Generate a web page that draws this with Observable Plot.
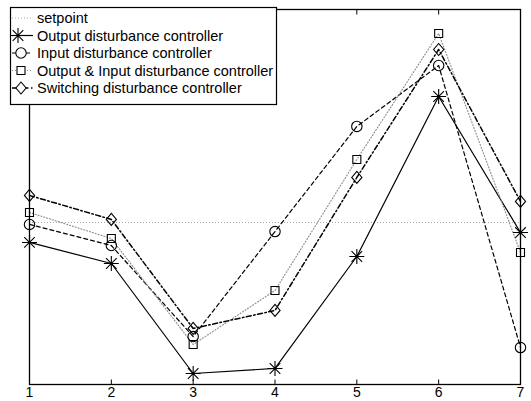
<!DOCTYPE html>
<html>
<head>
<meta charset="utf-8">
<script src="https://cdn.jsdelivr.net/npm/d3@7"></script>
<script src="https://cdn.jsdelivr.net/npm/@observablehq/plot@0.6"></script>
<style>
  html, body { margin: 0; padding: 0; background: #fff; }
  #chart svg { display: block; }
</style>
</head>
<body>
<div id="chart"></div>
<script>
// ---- data (arbitrary y units, setpoint = 1) ----
const xs = [1, 2, 3, 4, 5, 6, 7];
const setpoint = 1;
const outputDist   = [0.877, 0.747, 0.068, 0.099, 0.790, 1.778, 0.938];
const inputDist    = [0.988, 0.858, 0.296, 0.944, 1.593, 1.969, 0.228];
const outInDist    = [1.062, 0.901, 0.247, 0.580, 1.389, 2.167, 0.815];
const switchingDist= [1.167, 1.019, 0.346, 0.457, 1.278, 2.068, 1.130];
const seriesNames = [
  "setpoint",
  "Output disturbance controller",
  "Input disturbance controller",
  "Output & Input disturbance controller",
  "Switching disturbance controller"
];

// ---- custom Matlab-like marker shapes ----
const starSym = {draw(ctx, size) {
  const r = Math.sqrt(size / Math.PI), d = r * 0.707;
  ctx.moveTo(-r, 0); ctx.lineTo(r, 0);
  ctx.moveTo(0, -r); ctx.lineTo(0, r);
  ctx.moveTo(-d, -d); ctx.lineTo(d, d);
  ctx.moveTo(-d, d); ctx.lineTo(d, -d);
}};
const circleSym = {draw(ctx, size) {
  const r = Math.sqrt(size / Math.PI);
  ctx.moveTo(r, 0); ctx.arc(0, 0, r, 0, 2 * Math.PI);
}};
const squareSym = {draw(ctx, size) {
  const r = Math.sqrt(size / Math.PI);
  ctx.rect(-r, -r, 2 * r, 2 * r);
}};
const diamondSym = {draw(ctx, size) {
  const r = Math.sqrt(size / Math.PI), w = r * 0.85;
  ctx.moveTo(0, -r); ctx.lineTo(w, 0); ctx.lineTo(0, r); ctx.lineTo(-w, 0); ctx.closePath();
}};
// inward tick marks (Matlab style)
const tickUp = {draw(ctx, size) { ctx.moveTo(0, 0); ctx.lineTo(0, -Math.sqrt(size / Math.PI)); }};
const tickDown = {draw(ctx, size) { ctx.moveTo(0, 0); ctx.lineTo(0, Math.sqrt(size / Math.PI)); }};

const rows = (vals) => xs.map((x, i) => ({x, y: vals[i]}));

const styles = [
  {stroke: "#aaa", strokeDasharray: "1,2", strokeWidth: 1},
  {stroke: "black", strokeWidth: 1.2, symbol: starSym, r: 7.5},
  {stroke: "black", strokeDasharray: "4,3", strokeWidth: 1.2, symbol: circleSym, r: 5.2},
  {stroke: "#888", strokeDasharray: "1,2", strokeWidth: 1.1, symbol: squareSym, r: 4},
  {stroke: "black", strokeDasharray: "5,2.5,1.5,2.5", strokeWidth: 1.5, symbol: diamondSym, r: 6}
];
const data = [null, outputDist, inputDist, outInDist, switchingDist];

const marks = [
  Plot.ruleY([setpoint], {stroke: styles[0].stroke, strokeDasharray: styles[0].strokeDasharray, strokeWidth: 1})
];
for (let k = 1; k < 5; k++) {
  const s = styles[k];
  marks.push(Plot.line(rows(data[k]), {x: "x", y: "y", stroke: s.stroke, strokeWidth: s.strokeWidth, strokeDasharray: s.strokeDasharray}));
}
for (let k = 1; k < 5; k++) {
  const s = styles[k];
  marks.push(Plot.dot(rows(data[k]), {x: "x", y: "y", symbol: () => s.symbol, r: s.r, stroke: "black", fill: "none", strokeWidth: 1.1}));
}
marks.push(
  Plot.frame({stroke: "black", strokeWidth: 1.3}),
  Plot.dot(xs, {x: d => d, frameAnchor: "bottom", symbol: () => tickUp, r: 5, stroke: "black", strokeWidth: 1}),
  Plot.dot(xs, {x: d => d, frameAnchor: "top", symbol: () => tickDown, r: 5, stroke: "black", strokeWidth: 1}),
  Plot.axisX({anchor: "bottom", ticks: xs, tickSize: 0, tickPadding: 3, fontSize: 14, tickFormat: d => String(d)})
);

const chart = Plot.plot({
  width: 531,
  height: 401,
  marginLeft: 29,
  marginRight: 11,
  marginTop: 9,
  marginBottom: 17,
  style: {fontFamily: "'Liberation Sans', Arial, Helvetica, sans-serif", fontSize: "14px", color: "black", background: "white"},
  x: {domain: [1, 7], label: null},
  y: {domain: [0, 375 / 162], axis: null},
  symbol: {type: "identity"},
  marks
});

// ---- legend (Matlab-style box overlaid on the axes) ----
const svg = d3.select(chart);
const lg = svg.append("g").attr("class", "legend").attr("text-anchor", "start");
lg.append("rect").attr("x", 10.5).attr("y", 7.5).attr("width", 266).attr("height", 97)
  .attr("fill", "white").attr("stroke", "black").attr("stroke-width", 1.2);
const rowY = [18, 35.5, 53, 70.5, 88];
seriesNames.forEach((name, k) => {
  const s = styles[k], y = rowY[k];
  lg.append("line").attr("x1", 12).attr("x2", 33).attr("y1", y).attr("y2", y)
    .attr("stroke", s.stroke).attr("stroke-width", s.strokeWidth)
    .attr("stroke-dasharray", s.strokeDasharray || null);
  if (s.symbol) {
    lg.append("path").attr("d", d3.symbol(s.symbol, Math.PI * s.r * s.r)())
      .attr("transform", `translate(${k === 1 ? 18 : 21},${y})`)
      .attr("fill", "white").attr("stroke", "black").attr("stroke-width", 1.1);
  }
  lg.append("text").attr("x", 37).attr("y", y).attr("dy", "0.35em")
    .attr("text-anchor", "start")
    .attr("font-size", 14.5).attr("fill", "black").text(name);
});

document.getElementById("chart").appendChild(chart);
</script>
</body>
</html>
